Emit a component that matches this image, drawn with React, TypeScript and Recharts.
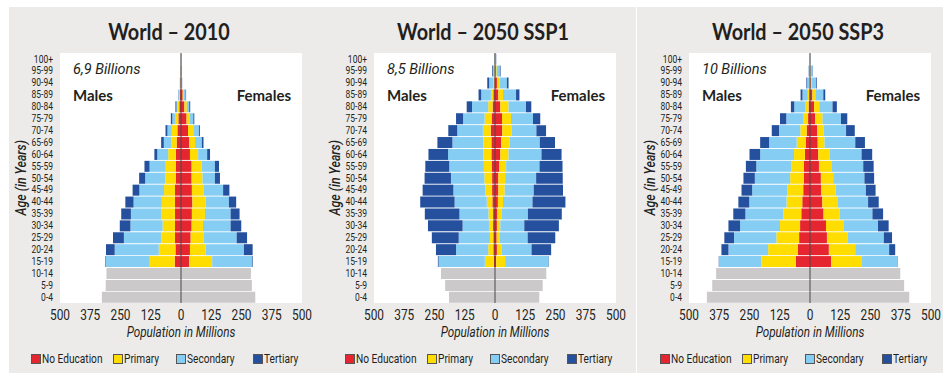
import React from 'react';
import { BarChart, Bar, XAxis, YAxis, CartesianGrid, ReferenceLine } from 'recharts';

// age groups, top to bottom
const ages = ['100+', '95-99', '90-94', '85-89', '80-84', '75-79', '70-74', '65-69', '60-64', '55-59',
  '50-54', '45-49', '40-44', '35-39', '30-34', '25-29', '20-24', '15-19', '10-14', '5-9', '0-4'];
const xTicks = [-500, -375, -250, -125, 0, 125, 250, 375, 500];

// World 2010 (millions), 100+ ... 15-19
const m2010NoEdu = [0.3, 0.6, 2, 4, 7, 11, 15, 18, 21, 22, 22, 25, 25, 25, 25, 25, 23, 26];
const m2010Primary = [0.2, 0.5, 1, 3, 8, 14, 23, 21, 32, 41, 43, 45, 54, 55, 51, 56, 69, 103];
const m2010Secondary = [0.2, 0.5, 1, 3, 4, 11, 18, 32, 45, 67, 83, 102, 117, 127, 133, 155, 182, 183];
const m2010Tertiary = [0.2, 0.3, 0.5, 1, 4, 6, 8, 11, 12, 21, 25, 28, 34, 40, 44, 45, 36, 2];
const f2010NoEdu = [0.5, 1, 2, 7, 14, 23, 29, 33, 37, 44, 44, 45, 47, 45, 44, 40, 37, 34];
const f2010Primary = [0.3, 0.6, 1, 5, 10, 14, 22, 25, 34, 41, 45, 48, 55, 54, 47, 54, 65, 95];
const f2010Secondary = [0.3, 0.6, 1.5, 7, 10, 14, 23, 28, 37, 55, 51, 81, 96, 106, 114, 136, 158, 164];
const f2010Tertiary = [0.2, 0.3, 0.5, 2, 4, 4, 4, 7, 12, 17, 21, 26, 30, 37, 44, 43, 36, 3];
// 10-14, 5-9, 0-4
const m2010Kids = [308, 311, 327];
const f2010Kids = [289, 293, 307];

// World 2050 SSP1
const mSsp1NoEdu = [0.3, 1, 3, 7, 10, 14, 18, 15, 15, 14, 12, 12, 11, 8, 8, 7, 7, 5];
const mSsp1Primary = [0.5, 2, 4, 10, 18, 29, 32, 33, 33, 32, 32, 28, 23, 19, 17, 14, 21, 37];
const mSsp1Secondary = [1, 6, 17, 40, 67, 89, 106, 128, 146, 143, 138, 132, 133, 120, 109, 129, 133, 191];
const mSsp1Tertiary = [0.5, 3, 8, 11, 22, 29, 37, 62, 81, 99, 109, 127, 142, 143, 143, 111, 83, 3];
const fSsp1NoEdu = [1, 3, 8, 14, 22, 29, 30, 25, 22, 18, 14, 14, 12, 10, 8, 7, 8, 5];
const fSsp1Primary = [1, 4, 11, 19, 34, 37, 39, 36, 34, 28, 28, 26, 21, 17, 14, 11, 19, 37];
const fSsp1Secondary = [2, 13, 30, 54, 72, 91, 102, 124, 136, 138, 128, 120, 122, 109, 99, 117, 124, 180];
const fSsp1Tertiary = [1, 3, 7, 14, 22, 30, 40, 63, 83, 95, 110, 121, 136, 140, 143, 114, 81, 1];
const mSsp1Kids = [223, 206, 190];
const fSsp1Kids = [212, 197, 183];

// World 2050 SSP3
const mSsp3NoEdu = [0, 0.5, 1, 3, 6, 8, 14, 18, 21, 25, 26, 28, 32, 36, 41, 45, 51, 59];
const mSsp3Primary = [0, 1, 3, 6, 12, 21, 26, 37, 45, 51, 56, 65, 65, 74, 83, 94, 122, 142];
const mSsp3Secondary = [1, 3, 8, 22, 47, 69, 88, 114, 140, 146, 146, 146, 154, 157, 165, 175, 164, 175];
const mSsp3Tertiary = [0.2, 1, 3, 8, 14, 26, 30, 37, 44, 43, 47, 44, 45, 50, 48, 40, 29, 1];
const fSsp3NoEdu = [0, 1, 3, 10, 17, 22, 29, 32, 34, 37, 45, 47, 51, 56, 66, 70, 78, 87];
const fSsp3Primary = [0, 1, 4, 12, 21, 30, 28, 28, 48, 54, 51, 59, 62, 67, 72, 85, 109, 128];
const fSsp3Secondary = [1, 9, 18, 33, 55, 76, 92, 127, 131, 129, 129, 125, 127, 135, 143, 150, 140, 147];
const fSsp3Tertiary = [0.2, 1, 3, 8, 18, 26, 36, 40, 44, 43, 40, 40, 44, 44, 44, 34, 25, 1];
const mSsp3Kids = [388, 404, 426];
const fSsp3Kids = [373, 389, 410];

const COLORS = {
  noEdu: '#e52530',
  primary: '#ffdd00',
  secondary: '#86cdf3',
  tertiary: '#24509d',
  kids: '#cbc9c9',
};
const INK = '#231f20';
const NARROW = 'Roboto, "Noto Sans", sans-serif';
const TITLE_FONT = 'Lato, "Open Sans", sans-serif';

const legendItems = [
  { label: 'No Education', color: COLORS.noEdu, x: 31 },
  { label: 'Primary', color: COLORS.primary, x: 113 },
  { label: 'Secondary', color: COLORS.secondary, x: 176 },
  { label: 'Tertiary', color: COLORS.tertiary, x: 253 },
];

type Side = { noEdu: number[]; primary: number[]; secondary: number[]; tertiary: number[]; kids: number[] };

const buildRows = (m: Side, f: Side) =>
  ages.map((age, i) => {
    const edu = i < 18;
    const k = i - 18;
    return {
      age,
      mNoEdu: edu ? -m.noEdu[i] : 0,
      mPrimary: edu ? -m.primary[i] : 0,
      mSecondary: edu ? -m.secondary[i] : 0,
      mTertiary: edu ? -m.tertiary[i] : 0,
      fNoEdu: edu ? f.noEdu[i] : 0,
      fPrimary: edu ? f.primary[i] : 0,
      fSecondary: edu ? f.secondary[i] : 0,
      fTertiary: edu ? f.tertiary[i] : 0,
      mKids: edu ? 0 : -m.kids[k],
      fKids: edu ? 0 : f.kids[k],
    };
  });

const panels = [
  {
    title: 'World – 2010',
    total: '6,9 Billions',
    left: 0,
    rows: buildRows(
      { noEdu: m2010NoEdu, primary: m2010Primary, secondary: m2010Secondary, tertiary: m2010Tertiary, kids: m2010Kids },
      { noEdu: f2010NoEdu, primary: f2010Primary, secondary: f2010Secondary, tertiary: f2010Tertiary, kids: f2010Kids },
    ),
  },
  {
    title: 'World – 2050 SSP1',
    total: '8,5 Billions',
    left: 314,
    rows: buildRows(
      { noEdu: mSsp1NoEdu, primary: mSsp1Primary, secondary: mSsp1Secondary, tertiary: mSsp1Tertiary, kids: mSsp1Kids },
      { noEdu: fSsp1NoEdu, primary: fSsp1Primary, secondary: fSsp1Secondary, tertiary: fSsp1Tertiary, kids: fSsp1Kids },
    ),
  },
  {
    title: 'World – 2050 SSP3',
    total: '10 Billions',
    left: 629,
    rows: buildRows(
      { noEdu: mSsp3NoEdu, primary: mSsp3Primary, secondary: mSsp3Secondary, tertiary: mSsp3Tertiary, kids: mSsp3Kids },
      { noEdu: fSsp3NoEdu, primary: fSsp3Primary, secondary: fSsp3Secondary, tertiary: fSsp3Tertiary, kids: fSsp3Kids },
    ),
  },
];

const series = [
  { key: 'mNoEdu', color: COLORS.noEdu },
  { key: 'mPrimary', color: COLORS.primary },
  { key: 'mSecondary', color: COLORS.secondary },
  { key: 'mTertiary', color: COLORS.tertiary },
  { key: 'fNoEdu', color: COLORS.noEdu },
  { key: 'fPrimary', color: COLORS.primary },
  { key: 'fSecondary', color: COLORS.secondary },
  { key: 'fTertiary', color: COLORS.tertiary },
  { key: 'mKids', color: COLORS.kids },
  { key: 'fKids', color: COLORS.kids },
];

// condensed look: squeeze the glyphs horizontally
const AgeTick = (props: any) => {
  const { x, y, payload } = props;
  return (
    <text transform={`translate(${x},${y}) scale(0.85,1)`} textAnchor="end" dy="0.355em"
      fontFamily={NARROW} fontSize={10} fill={INK}>
      {payload.value}
    </text>
  );
};

const PopTick = (props: any) => {
  const { x, y, payload } = props;
  return (
    <text transform={`translate(${x},${y}) scale(0.82,1)`} textAnchor="middle" dy="0.71em"
      fontFamily={NARROW} fontSize={14.5} fill={INK}>
      {Math.abs(Number(payload.value))}
    </text>
  );
};

const squeeze = (s: number): React.CSSProperties => ({ transform: `scaleX(${s})`, transformOrigin: 'left center', whiteSpace: 'nowrap' });

const Pyramid: React.FC<{ p: (typeof panels)[number] }> = ({ p }) => (
  <div style={{ position: 'absolute', left: p.left, top: 0, width: 314, height: 381 }}>
    <div style={{ position: 'absolute', left: 0, top: 17, width: 338, textAlign: 'center', transform: 'scaleX(0.9)', fontFamily: TITLE_FONT, fontWeight: 700, fontSize: 22, lineHeight: '30px', color: INK }}>
      {p.title}
    </div>
    <BarChart width={314} height={381} data={p.rows} layout="vertical" stackOffset="sign" barCategoryGap={0.7}
      margin={{ top: 53, right: 12, bottom: 58, left: 0 }}>
      <CartesianGrid fill="#ffffff" horizontal={false} vertical={false} />
      <XAxis type="number" domain={[-500, 500]} ticks={xTicks} allowDataOverflow axisLine={false} tickLine={false}
        tickSize={0} tickMargin={7} height={20} interval={0} tick={<PopTick />} />
      <YAxis type="category" dataKey="age" width={60} axisLine={false} tickLine={false} tickSize={0} tickMargin={7}
        interval={0} tick={<AgeTick />} />
      {series.map((s) => (
        <Bar key={s.key} dataKey={s.key} stackId="pop" fill={s.color} isAnimationActive={false} />
      ))}
      <ReferenceLine x={0} stroke="#4a4a4a" strokeWidth={1} />
    </BarChart>
    <div style={{ position: 'absolute', left: 73, top: 61, fontFamily: NARROW, fontStyle: 'italic', fontSize: 14.5, lineHeight: '18px', color: INK }}>
      {p.total}
    </div>
    <div style={{ position: 'absolute', left: 73, top: 86, fontFamily: TITLE_FONT, fontWeight: 700, fontSize: 15, lineHeight: '18px', color: INK }}>
      Males
    </div>
    <div style={{ position: 'absolute', right: 23, top: 86, fontFamily: TITLE_FONT, fontWeight: 700, fontSize: 15, lineHeight: '18px', color: INK }}>
      Females
    </div>
    <div style={{ position: 'absolute', left: 14, top: 128, height: 100, display: 'flex', justifyContent: 'center', writingMode: 'vertical-rl', transform: 'rotate(180deg) scaleY(0.85)', fontFamily: NARROW, fontStyle: 'italic', fontWeight: 500, fontSize: 14.5, lineHeight: '16px', color: INK, whiteSpace: 'nowrap' }}>
      Age (in Years)
    </div>
    <div style={{ position: 'absolute', left: 81, top: 323, width: 200, textAlign: 'center', transform: 'scaleX(0.78)', fontFamily: NARROW, fontStyle: 'italic', fontSize: 15, lineHeight: '18px', color: INK }}>
      Population in Millions
    </div>
    {legendItems.map((l) => (
      <React.Fragment key={l.label}>
        <span style={{ position: 'absolute', left: l.x, top: 354, width: 8, height: 8, background: l.color, border: '1px solid #555' }} />
        <div style={{ position: 'absolute', left: l.x + 11, top: 350, fontFamily: NARROW, fontSize: 13, lineHeight: '17px', color: INK, ...squeeze(0.78) }}>
          {l.label}
        </div>
      </React.Fragment>
    ))}
  </div>
);

export default function App() {
  return (
    <div style={{ position: 'absolute', left: 0, top: 0, width: 952, height: 381, background: '#fff', overflow: 'hidden' }}>
      <div style={{ position: 'absolute', left: 9, top: 7, width: 934, height: 366, background: '#ecebea' }} />
      <div style={{ position: 'absolute', left: 636, top: 7, width: 1, height: 366, background: '#fff' }} />
      {panels.map((p) => (
        <Pyramid key={p.title} p={p} />
      ))}
    </div>
  );
}
